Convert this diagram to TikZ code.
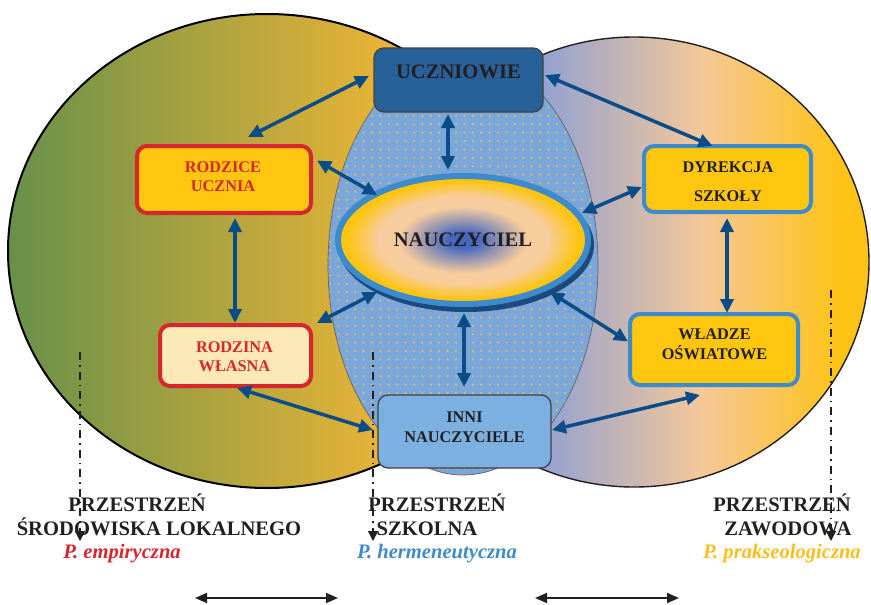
\documentclass[tikz,border=0pt]{standalone}
\usepackage{fontspec}
\setmainfont{Liberation Serif}
\usetikzlibrary{arrows.meta,calc,shapes.geometric}

\definecolor{lgreen}{RGB}{104,144,74}
\definecolor{lorange}{RGB}{234,180,54}
\definecolor{rblue}{RGB}{138,156,214}
\definecolor{rblue2}{RGB}{149,162,208}
\definecolor{rpeach}{RGB}{245,200,152}
\definecolor{rgold}{RGB}{254,195,22}
\definecolor{midblue}{RGB}{122,166,218}
\definecolor{dotyel}{RGB}{236,192,72}
\definecolor{bgold}{RGB}{254,198,15}
\definecolor{bcream}{RGB}{253,233,182}
\definecolor{bred}{RGB}{214,38,46}
\definecolor{bblue}{RGB}{61,139,203}
\definecolor{ucblue}{RGB}{40,97,153}
\definecolor{inblue}{RGB}{124,176,224}
\definecolor{ink}{RGB}{35,31,32}
\definecolor{arrblue}{RGB}{10,76,136}
\definecolor{nshadow}{RGB}{28,74,124}
\definecolor{ncore}{RGB}{70,104,192}
\definecolor{npeach}{RGB}{247,205,158}
\definecolor{ngold}{RGB}{254,196,18}
\definecolor{pgold}{RGB}{251,190,28}

\pgfdeclareradialshading{naush}{\pgfpoint{0bp}{0bp}}{color(0bp)=(ncore); color(3bp)=(ncore); color(13bp)=(npeach); color(17bp)=(npeach); color(23bp)=(ngold); color(50bp)=(ngold)}

\begin{document}
\begin{tikzpicture}[x=1pt,y=-1pt,
  boxbase/.style={rectangle, rounded corners=10pt, inner sep=0pt, outer sep=0pt},
  redbox/.style={boxbase, draw=bred, line width=4pt},
  bluebox/.style={boxbase, draw=bblue, line width=4pt, fill=bgold},
  darkbox/.style={boxbase, draw=ink!85, line width=1.3pt},
  boxtxt/.style={font=\fontsize{16.3}{19}\selectfont\bfseries, align=center, inner sep=0pt},
  bigtxt/.style={font=\fontsize{20.6}{24}\selectfont\bfseries, text=ink, inner sep=0pt},
  labtxt/.style={font=\fontsize{20.6}{24}\selectfont\bfseries, text=ink, inner sep=0pt, anchor=base},
  subtxt/.style={font=\fontsize{20.6}{24}\selectfont\bfseries\itshape, inner sep=0pt, anchor=base},
  arr/.style={draw=arrblue, line width=3.5pt,
    {Triangle[length=14pt,width=13pt]}-{Triangle[length=14pt,width=13pt]}},
  guide/.style={draw=ink, line width=1.4pt, dash pattern=on 8pt off 5pt on 1.5pt off 5pt,
    -{Triangle[length=10pt,width=10pt]}},
  span/.style={draw=ink, line width=1.8pt,
    {Triangle[length=12pt,width=10pt]}-{Triangle[length=12pt,width=10pt]}}]

\useasboundingbox (0,0) rectangle (871,605);

% professional space (right)
\begin{scope}
  \clip (634,262) ellipse [x radius=235, y radius=225];
  \shade[left color=rblue, right color=rblue2] (398,30) rectangle (546,490);
  \shade[left color=rblue2, right color=rpeach] (545,30) rectangle (703,490);
  \shade[left color=rpeach, right color=rgold] (702,30) rectangle (841,490);
  \fill[rgold] (840,30) rectangle (871,490);
\end{scope}
\draw[ink, line width=1.4pt] (634,262) ellipse [x radius=235, y radius=225];

% local environment space (left)
\begin{scope}
  \clip (267,251) ellipse [x radius=259, y radius=237];
  \shade[left color=lgreen, right color=lorange] (8,10) rectangle (391,490);
  \fill[lorange] (390,10) rectangle (527,490);
\end{scope}
\draw[black, line width=2pt] (267,251) ellipse [x radius=259, y radius=237];

% school space (centre), dotted
\fill[midblue] (463,265) ellipse [x radius=135, y radius=210];
\begin{scope}
  \clip (463,265) ellipse [x radius=135, y radius=210];
  \foreach \i in {0,...,32}
    \foreach \j in {0,...,50}
      \fill[dotyel] (330+8.4*\i, 57+8.4*\j) circle (1.15);
\end{scope}
\draw[ink!70, line width=0.7pt] (463,265) ellipse [x radius=135, y radius=210];

% boxes
\node[darkbox, fill=ucblue, minimum width=169pt, minimum height=64pt] (ucz) at (458.5,80) {};
\node[redbox, fill=bgold, minimum width=174pt, minimum height=67pt] (rodz) at (224,179.5) {};
\node[redbox, fill=bcream, minimum width=151pt, minimum height=61pt] (rwl) at (235.5,355.5) {};
\node[bluebox, minimum width=167pt, minimum height=66pt] (dyr) at (727.5,179) {};
\node[bluebox, minimum width=168pt, minimum height=71pt] (wla) at (714,349.5) {};
\node[darkbox, fill=inblue, minimum width=173pt, minimum height=73pt] (inni) at (464.5,431.5) {};

% teacher
\fill[nshadow] (466,245) ellipse [x radius=128, y radius=67];
\node[ellipse, draw=bblue, line width=6pt, minimum width=250pt, minimum height=128pt,
      inner sep=0pt, shading=naush] (nau) at (463,240) {};

% texts in boxes
\node[bigtxt] (ucz-t) at (458.5,72) {UCZNIOWIE};
\node[bigtxt] (nau-t) at (463,240) {NAUCZYCIEL};
\node[boxtxt, text=bred] (rodz-t) at (223,176.5) {RODZICE\\UCZNIA};
\node[boxtxt, text=bred] (rwl-t) at (234.5,356.5) {RODZINA\\WŁASNA};
\node[boxtxt, text=ink, font=\fontsize{16.3}{29}\selectfont\bfseries] (dyr-t) at (728,181.5) {DYREKCJA\\SZKOŁY};
\node[boxtxt, text=ink, font=\fontsize{16.3}{20}\selectfont\bfseries] (wla-t) at (714.5,344) {WŁADZE\\OŚWIATOWE};
\node[boxtxt, text=ink, font=\fontsize{16.3}{20}\selectfont\bfseries] (inni-t) at (464.5,427) {INNI\\NAUCZYCIELE};

% relations
\draw[arr] ($(ucz.west)+(-5,-4)$) -- ($(rodz.north)+(24,-9)$);
\draw[arr] ($(ucz.east)+(2,-5)$) -- ($(dyr.north)+(-15,0)$);
\draw[arr] ($(ucz.south)+(-10.5,2)$) -- ($(nau.center)+(-15,-70)$);
\draw[arr] ($(rodz.east)+(6,-19)$) -- ($(nau.center)+(-86,-45)$);
\draw[arr] ($(dyr.west)+(-2,8)$) -- ($(nau.center)+(119,-27)$);
\draw[arr] ($(rodz.south)+(11,5)$) -- ($(rwl.north)+(-0.5,-2)$);
\draw[arr] ($(nau.center)+(-86,52)$) -- ($(rwl.north east)+(6,-2)$);
\draw[arr] ($(nau.center)+(87,52)$) -- ($(wla.west)+(-2,-8)$);
\draw[arr] ($(nau.center)+(1,73)$) -- ($(inni.north)+(-0.5,-8)$);
\draw[arr] ($(rwl.south)+(1.5,2)$) -- ($(inni.west)+(-5,-1.5)$);
\draw[arr] ($(inni.east)+(1,-1.5)$) -- ($(wla.south)+(-14,10)$);
\draw[arr] ($(dyr.south)+(-0.5,6)$) -- ($(wla.north)+(13,-1)$);

% space labels
\node[labtxt] (l1a) at (137,511) {PRZESTRZEŃ};
\node[labtxt] (l1b) at (159,535) {ŚRODOWISKA LOKALNEGO};
\node[subtxt, text=bred] (l1c) at (122,558) {P. empiryczna};
\node[labtxt] (l2a) at (437,511) {PRZESTRZEŃ};
\node[labtxt] (l2b) at (427,535) {SZKOLNA};
\node[subtxt, text=bblue] (l2c) at (437,558) {P. hermeneutyczna};
\node[labtxt] (l3a) at (782,511) {PRZESTRZEŃ};
\node[labtxt] (l3b) at (788,535) {ZAWODOWA};
\node[subtxt, text=pgold] (l3c) at (782,558) {P. prakseologiczna};

% guide lines
\coordinate (g1s) at (80,352);  \coordinate (g1e) at (80,541);
\coordinate (g2s) at (373,352); \coordinate (g2e) at (373,541);
\coordinate (g3s) at (831,290); \coordinate (g3e) at (831,541);
\draw[guide] (g1s) -- (g1e);
\draw[guide] (g2s) -- (g2e);
\draw[guide] (g3s) -- (g3e);

% bottom spans
\coordinate (s1a) at (195,598); \coordinate (s1b) at (338,598);
\coordinate (s2a) at (535,598); \coordinate (s2b) at (679,598);
\draw[span] (s1a) -- (s1b);
\draw[span] (s2a) -- (s2b);
\end{tikzpicture}
\end{document}
